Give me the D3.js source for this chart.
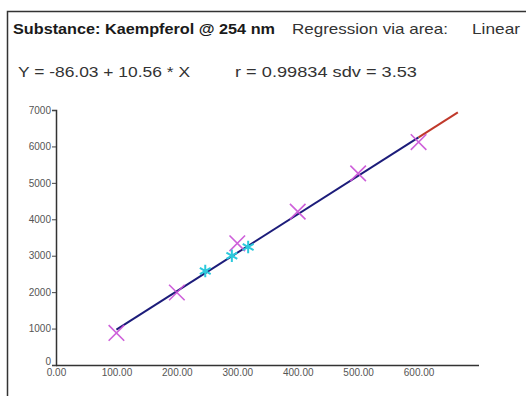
<!DOCTYPE html>
<html>
<head>
<meta charset="utf-8">
<script src="https://cdn.jsdelivr.net/npm/d3@7"></script>
<style>
  body { margin: 0; background: #fff; }
  text { font-family: "Liberation Sans", Arial, sans-serif; }
</style>
</head>
<body>
<script>

// calibration standards (magenta) and samples (cyan)
var stdX = [100, 200, 300, 400, 500, 600];
var stdY = [880, 1990, 3340, 4210, 5260, 6120];
var smpX = [247, 291, 318];
var smpY = [2580, 3000, 3240];

var intercept = -86.03,
    slope = 10.56;
var fitRange = [100, 600],
    extRange = [600, 665];

var xTicks = [0, 100, 200, 300, 400, 500, 600];
var yTicks = [0, 1000, 2000, 3000, 4000, 5000, 6000, 7000];

var width = 526,
    height = 396;

var svg = d3.select("body").append("svg")
    .attr("width", width)
    .attr("height", height);

// outer frame (runs off the right and bottom edge)
svg.append("rect")
    .attr("x", 7.5)
    .attr("y", 11.5)
    .attr("width", 540)
    .attr("height", 400)
    .attr("fill", "none")
    .attr("stroke", "#333")
    .attr("stroke-width", 1.5);

// header text
function header(txt, x, y, len, bold) {
  svg.append("text")
      .attr("x", x)
      .attr("y", y)
      .attr("font-size", 15)
      .attr("font-weight", bold ? "bold" : "normal")
      .attr("fill", bold ? "#1a1a1a" : "#333")
      .attr("textLength", len)
      .attr("lengthAdjust", "spacingAndGlyphs")
      .text(txt);
}
header("Substance: Kaempferol @ 254 nm", 13, 34, 262, true);
header("Regression via area:", 292, 34, 156, false);
header("Linear", 472, 34, 48, false);
header("Y = -86.03 + 10.56 * X", 18, 77, 172, false);
header("r = 0.99834 sdv = 3.53", 235, 77, 182, false);

var x = d3.scaleLinear()
    .domain([0, 700])
    .range([56, 479]);

var y = d3.scaleLinear()
    .domain([0, 7000])
    .range([365, 110]);

// y axis
var gy = svg.append("g")
    .attr("transform", "translate(" + x(0) + ",0)")
    .call(d3.axisLeft(y).tickValues(yTicks).tickSize(4).tickPadding(1).tickFormat(d3.format("d")));

// x axis
var gx = svg.append("g")
    .attr("transform", "translate(0," + y(0) + ")")
    .call(d3.axisBottom(x).tickValues(xTicks).tickSize(0).tickPadding(4).tickFormat(d3.format(".2f")));

[gx, gy].forEach(function(g) {
  g.select(".domain").attr("stroke", "#333").attr("stroke-width", 1.5);
  g.selectAll(".tick line").attr("stroke", "#444");
  g.selectAll("text")
      .attr("font-family", "DejaVu Sans, sans-serif")
      .attr("font-size", 10)
      .attr("fill", "#555");
});
gx.select(".domain").attr("d", "M" + x(0) + ",0.5H" + x(700));
gy.selectAll(".tick").filter(function(d) { return d === 0; }).select("text")
    .attr("dy", "-0.1em");

// regression line
var line = d3.line()
    .x(function(d) { return x(d); })
    .y(function(d) { return y(intercept + slope * d); });

svg.append("path")
    .datum(fitRange)
    .attr("fill", "none")
    .attr("stroke", "#1c1c7a")
    .attr("stroke-width", 2)
    .attr("d", line);

svg.append("path")
    .datum(extRange)
    .attr("fill", "none")
    .attr("stroke", "#c0392b")
    .attr("stroke-width", 2)
    .attr("d", line);

// standards
var times = d3.symbol().type(d3.symbolTimes).size(160);
svg.selectAll(".std")
    .data(stdX)
  .enter().append("path")
    .attr("class", "std")
    .attr("transform", function(d, i) { return "translate(" + x(d) + "," + y(stdY[i]) + ")"; })
    .attr("d", times)
    .attr("fill", "none")
    .attr("stroke", "#c94fd6")
    .attr("stroke-width", 1.6)
    .attr("opacity", 0.9);

// samples
var star = d3.symbol().type(d3.symbolAsterisk).size(110);
svg.selectAll(".smp")
    .data(smpX)
  .enter().append("path")
    .attr("class", "smp")
    .attr("transform", function(d, i) { return "translate(" + x(d) + "," + y(smpY[i]) + ")"; })
    .attr("d", star)
    .attr("fill", "none")
    .attr("stroke", "#2cc9dc")
    .attr("stroke-width", 2);

</script>
</body>
</html>
